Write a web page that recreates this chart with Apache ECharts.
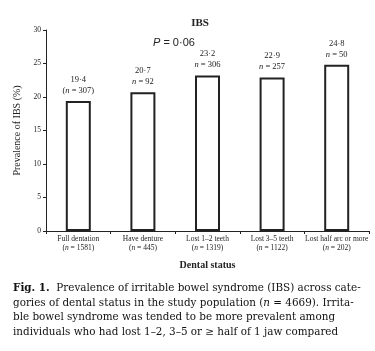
<!DOCTYPE html>
<html>
<head>
<meta charset="utf-8">
<script src="https://cdn.jsdelivr.net/npm/echarts@6/dist/echarts.min.js"></script>
<style>
  html, body { margin: 0; padding: 0; background: #fff; }
  #chart { width: 375px; height: 351px; }
</style>
</head>
<body>
<div id="chart"></div>
<script>
// 数据
const categories = ['Full dentation', 'Have denture', 'Lost 1\u20132 teeth', 'Lost 3\u20135 teeth', 'Lost half arc or more'];
const groupSizes = ['1581', '445', '1319', '1122', '202'];
const prevalence = [19.4, 20.7, 23.2, 22.9, 24.8];
const caseCounts = ['(n = 307)', 'n = 92', 'n = 306', 'n = 257', 'n = 50'];
const yTicks = [0, 30, 5];

const serif = '"Liberation Serif", "DejaVu Serif", serif';
const capFont = '"DejaVu Serif", serif';
const ink = '#222';

// 圆点小数
function dot(v) {
  return String(v.toFixed(1)).replace('.', '\u00b7');
}

// n 斜体
function nRich(s) {
  return s.replace('n', '{i|n}');
}

const chart = echarts.init(document.getElementById('chart'));

const option = {
  animation: false,
  title: {
    text: 'IBS',
    left: 195,
    top: 13,
    textAlign: 'center',
    textStyle: { fontFamily: serif, fontSize: 11, fontWeight: 'bold', color: ink }
  },
  grid: { left: 46, right: 6, top: 30, bottom: 120, outerBoundsMode: 'none' },
  xAxis: {
    type: 'category',
    data: categories,
    name: 'Dental status',
    nameLocation: 'middle',
    nameGap: 29,
    nameTextStyle: { fontFamily: serif, fontSize: 10, fontWeight: 'bold', color: ink },
    axisLine: { lineStyle: { color: ink, width: 1 } },
    axisTick: { show: true, length: 3, lineStyle: { color: ink } },
    axisLabel: {
      interval: 0,
      margin: 4,
      fontFamily: serif,
      fontSize: 7.5,
      color: ink,
      lineHeight: 9,
      formatter: function (v, i) {
        return v + '\n(' + nRich('n = ' + groupSizes[i]) + ')';
      },
      rich: { i: { fontStyle: 'italic', fontFamily: serif, fontSize: 7.5, color: ink, lineHeight: 9 } }
    }
  },
  yAxis: {
    type: 'value',
    min: yTicks[0],
    max: yTicks[1],
    interval: yTicks[2],
    name: 'Prevalence of IBS (%)',
    nameLocation: 'middle',
    nameGap: 21,
    nameTextStyle: { fontFamily: serif, fontSize: 10, color: ink },
    axisLine: { show: true, lineStyle: { color: ink, width: 1 } },
    axisTick: { show: true, length: 3, lineStyle: { color: ink } },
    splitLine: { show: false },
    axisLabel: { margin: 5, fontFamily: serif, fontSize: 7.5, color: ink }
  },
  series: [{
    type: 'bar',
    data: prevalence,
    barWidth: 25,
    itemStyle: { color: '#fff', borderColor: ink, borderWidth: 2 },
    label: {
      show: true,
      position: 'top',
      distance: 5,
      fontFamily: serif,
      fontSize: 8.5,
      color: ink,
      lineHeight: 11,
      formatter: function (p) {
        return dot(p.value) + '\n' + nRich(caseCounts[p.dataIndex]);
      },
      rich: { i: { fontStyle: 'italic', fontFamily: serif, fontSize: 8.5, color: ink, lineHeight: 11 } }
    }
  }],
  graphic: [
    {
      type: 'text',
      left: 153,
      top: 37,
      style: {
        text: '{i|P} = 0\u00b706',
        fontFamily: '"Liberation Sans", Arial, sans-serif',
        fontSize: 11,
        fill: ink,
        rich: { i: { fontStyle: 'italic', fontFamily: '"Liberation Sans", Arial, sans-serif', fontSize: 11, fill: ink } }
      }
    },
    {
      type: 'text',
      left: 13,
      top: 281,
      style: {
        text: '{b|Fig. 1.}  Prevalence of irritable bowel syndrome (IBS) across cate-\n' +
              'gories of dental status in the study population ({i|n} = 4669). Irrita-\n' +
              'ble bowel syndrome was tended to be more prevalent among\n' +
              'individuals who had lost 1\u20132, 3\u20135 or \u2265 half of 1 jaw compared',
        fontFamily: capFont,
        fontSize: 10.4,
        lineHeight: 14.7,
        fill: '#111',
        rich: {
          b: { fontWeight: 'bold', fontFamily: capFont, fontSize: 10.4, lineHeight: 14.7, fill: '#111' },
          i: { fontStyle: 'italic', fontFamily: capFont, fontSize: 10.4, lineHeight: 14.7, fill: '#111' }
        }
      }
    }
  ]
};

chart.setOption(option);
</script>
</body>
</html>
